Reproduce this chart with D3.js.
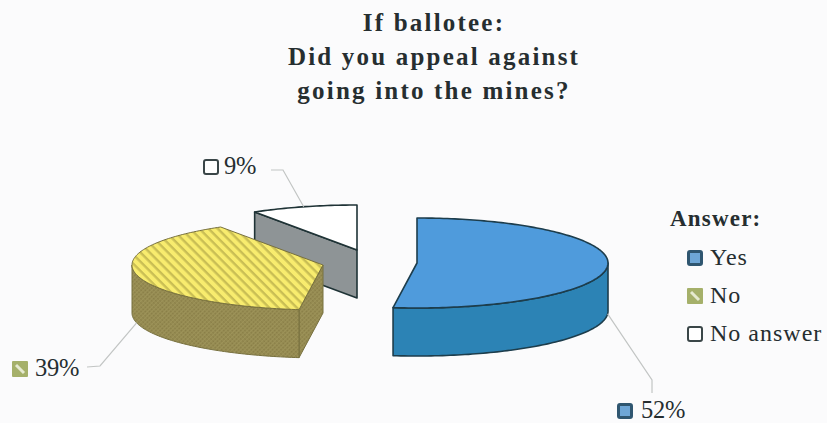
<!DOCTYPE html>
<html>
<head>
<meta charset="utf-8">
<script src="https://cdn.jsdelivr.net/npm/d3@7"></script>
<style>
html,body{margin:0;padding:0;background:#fbfbfc;}
svg{display:block;}
text{font-family:"Liberation Serif",serif;fill:#262e30;}
</style>
</head>
<body>
<svg id="chart" width="827" height="423"></svg>
<script>
// Answers to the ballotee question, in percent
const answers = ["Yes", "No", "No answer"];
const shares = [52, 39, 9];
const titleLines = ["If ballotee:", "Did you appeal against", "going into the mines?"];
const legendTitle = "Answer:";

const W = 827, H = 423;
const rx = 191, ry = 45, depth = 48;
// Each slice is pulled away from the others, so every one has its own centre
const centres = [[417, 263], [323, 265], [357, 250]];
const labelSpots = [
  {sx: 617, sy: 403, tx: 641, ty: 418, elbow: [[652, 380], [652, 393]]},
  {sx: 12, sy: 361, tx: 35, ty: 376, elbow: [[100, 366], [87, 367]]},
  {sx: 203, sy: 159, tx: 224, ty: 174, elbow: [[283, 170], [271, 170]]}
];
const look = [
  {top: "#4f9bdc", wall: "#2c83b5", edge: "#1d3d4c", edgeW: 1.6},
  {top: "url(#stripes)", wall: "url(#weave)", edge: "#77703e", edgeW: 1},
  {top: "#ffffff", wall: "#8e9496", edge: "#1f3336", edgeW: 1.6}
];

const svg = d3.select("#chart");
svg.append("rect").attr("width", W).attr("height", H).attr("fill", "#fbfbfc");

// Hatch fills for the "No" slice
const defs = svg.append("defs");
const stripes = defs.append("pattern").attr("id", "stripes")
  .attr("patternUnits", "userSpaceOnUse").attr("width", 6.5).attr("height", 6.5)
  .attr("patternTransform", "rotate(45)");
stripes.append("rect").attr("width", 6.5).attr("height", 6.5).attr("fill", "#f8ec6e");
stripes.append("rect").attr("width", 6.5).attr("height", 2.4).attr("fill", "#c9be54");
const weave = defs.append("pattern").attr("id", "weave")
  .attr("patternUnits", "userSpaceOnUse").attr("width", 3).attr("height", 3)
  .attr("patternTransform", "rotate(45)");
weave.append("rect").attr("width", 3).attr("height", 3).attr("fill", "#958b52");
weave.append("rect").attr("width", 3).attr("height", 1).attr("fill", "#8a7f48");
weave.append("rect").attr("width", 1).attr("height", 3).attr("fill", "#9d9359");

const arcs = d3.pie().sort(null).value(d => d)(shares);
const onRim = (c, a, dz = 0) => [c[0] + rx * Math.sin(a), c[1] - ry * Math.cos(a) + dz];
const line = d3.line();
const rimPoints = (c, a0, a1, dz = 0) => {
  const n = Math.max(2, Math.ceil((a1 - a0) / 0.02));
  return d3.range(n + 1).map(i => onRim(c, a0 + (a1 - a0) * i / n, dz));
};

const slices = svg.append("g");
// Back slice first, so the nearer ones overlap it
[2, 1, 0].forEach(i => {
  const arc = arcs[i], c = centres[i], st = look[i];
  const g = slices.append("g").attr("stroke", st.edge).attr("stroke-width", st.edgeW)
    .attr("stroke-linejoin", "round");

  // Cut face along the leading radius, when it turns towards the viewer
  if (arc.startAngle > 0) {
    const p = onRim(c, arc.startAngle);
    g.append("path").attr("fill", st.wall).attr("d", line([
      c, p, [p[0], p[1] + depth], [c[0], c[1] + depth]
    ]) + "Z");
  }
  // Outer wall: only the part of the rim on the near side
  const w0 = Math.max(arc.startAngle, Math.PI / 2);
  const w1 = Math.min(arc.endAngle, 3 * Math.PI / 2);
  if (w1 > w0) {
    g.append("path").attr("fill", st.wall).attr("d", line(
      rimPoints(c, w0, w1).concat(rimPoints(c, w0, w1, depth).reverse())
    ) + "Z");
  }
  // Top face
  g.append("path").attr("fill", st.top).attr("d", line(
    [c].concat(rimPoints(c, arc.startAngle, arc.endAngle))
  ) + "Z");
});

// Swatches shared by the data labels and the legend
function swatch(g, i, x, y, s) {
  if (i === 0) {
    g.append("rect").attr("x", x + 1.5).attr("y", y + 1.5).attr("width", s - 3).attr("height", s - 3)
      .attr("rx", 1.5).attr("fill", "#6ea6d6").attr("stroke", "#2f5670").attr("stroke-width", 3);
  } else if (i === 1) {
    g.append("rect").attr("x", x).attr("y", y).attr("width", s).attr("height", s)
      .attr("rx", 1).attr("fill", "#a5b06a");
    g.append("line").attr("x1", x + 4).attr("y1", y + 4).attr("x2", x + s - 4).attr("y2", y + s - 4)
      .attr("stroke", "#e6ead0").attr("stroke-width", 3);
  } else {
    g.append("rect").attr("x", x + 1).attr("y", y + 1).attr("width", s - 2).attr("height", s - 2)
      .attr("rx", 2).attr("fill", "#ffffff").attr("stroke", "#3a4648").attr("stroke-width", 2);
  }
}

// Leader lines and percentage labels, anchored at each slice's mid angle
const labels = svg.append("g");
arcs.forEach((arc, i) => {
  const mid = (arc.startAngle + arc.endAngle) / 2;
  const near = Math.cos(mid) < 0;
  const from = onRim(centres[i], mid, near ? depth : 0);
  const spot = labelSpots[i];
  labels.append("path").attr("fill", "none").attr("stroke", "#c2c5c4").attr("stroke-width", 1.2)
    .attr("d", line([from].concat(spot.elbow)));
  swatch(labels, i, spot.sx, spot.sy, 16);
  labels.append("text").attr("x", spot.tx).attr("y", spot.ty)
    .attr("font-size", 24.5).attr("letter-spacing", -0.3).text(d3.format("d")(shares[i]) + "%");
});

// Title
svg.append("g").selectAll("text").data(titleLines).join("text")
  .attr("x", 434).attr("y", (d, i) => 31 + i * 34)
  .attr("text-anchor", "middle").attr("font-size", 25).attr("font-weight", "bold")
  .attr("letter-spacing", 2.2).text(d => d);

// Legend
const legend = svg.append("g");
legend.append("text").attr("x", 670).attr("y", 226).attr("font-size", 23)
  .attr("font-weight", "bold").attr("letter-spacing", 1.2).text(legendTitle);
answers.forEach((name, i) => {
  const y = 265 + i * 38;
  swatch(legend, i, 687, y - 15, 16);
  legend.append("text").attr("x", 710).attr("y", y).attr("font-size", 24)
    .attr("letter-spacing", 1).text(name);
});
</script>
</body>
</html>
